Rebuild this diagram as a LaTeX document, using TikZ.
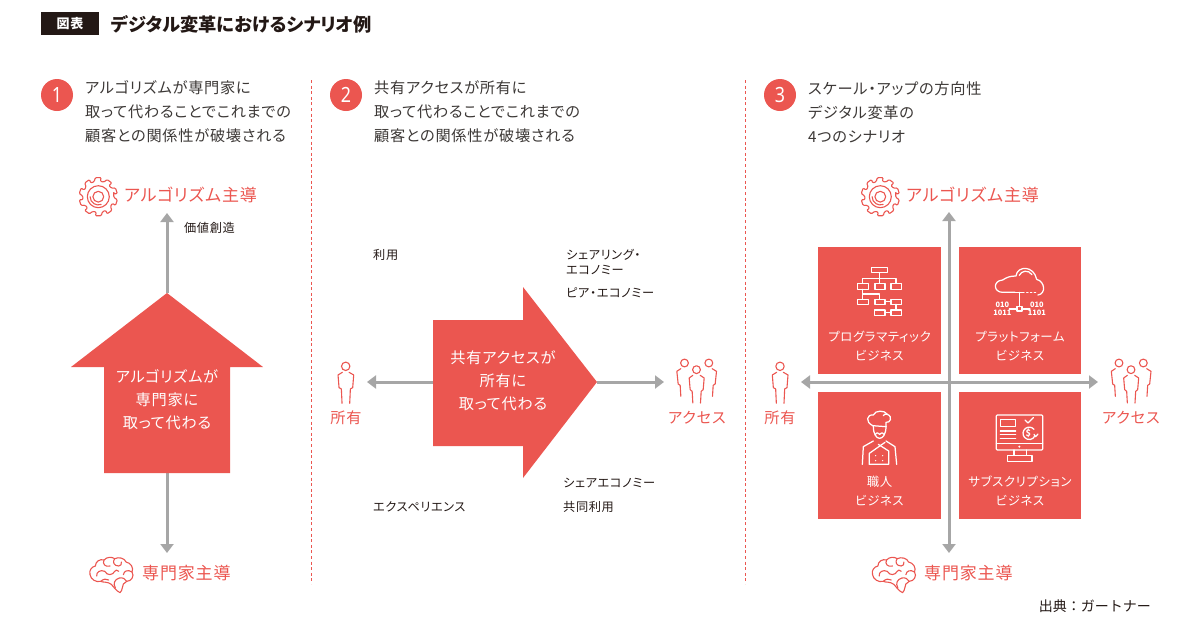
\documentclass[tikz,border=0pt]{standalone}
\usepackage{fontspec}
\usetikzlibrary{arrows.meta}
\setmainfont[RawFeature={+palt},LetterSpace=5]{Noto Sans CJK JP}
\newfontfamily\titlefont[RawFeature={+palt}]{Noto Sans CJK JP}
\newfontfamily\plainfont{Noto Sans CJK JP}
\newfontfamily\digitfont[FakeStretch=.85]{Noto Sans}
\definecolor{accent}{HTML}{EB5650}
\definecolor{axisgrey}{HTML}{A6A6A6}
\definecolor{ink}{HTML}{231815}
\definecolor{bodyink}{HTML}{3C3836}
\newcommand{\fs}[2]{\fontsize{#1}{#2}\selectfont}
\tikzset{
  px/.style={x=1pt,y=-1pt},
  zoomunits/.style={x=.3333pt,y=-.3333pt},
  axis/.style={draw=axisgrey,line width=3pt,-{Triangle[width=13pt,length=9pt]}},
  redshape/.style={fill=accent,draw=none},
  sep/.style={draw=accent,line width=.7pt,dash pattern=on 3pt off 2.6pt},
  lead/.style={anchor=west,inner sep=0pt,align=left,text=bodyink,font=\fs{15.2}{24}},
  poletext/.style={anchor=west,inner sep=0pt,text=accent,font=\fs{17}{20}},
  smalltext/.style={anchor=west,inner sep=0pt,align=left,text=ink,font=\fs{12.2}{15.5}},
  boxtext/.style={anchor=center,inner sep=0pt,align=center,text=white,font=\fs{12.4}{18.5}},
  bigtext/.style={anchor=center,inner sep=0pt,align=center,text=white,font=\fs{15.2}{23}},
  numdot/.style={circle,fill=accent,minimum size=32pt,inner sep=0pt,text=white,font=\digitfont\fs{21}{21}},
  ri/.style={draw=accent,line width=1.1pt,line cap=round,line join=round},
  wi/.style={draw=white,line width=1.25pt,line cap=round,line join=round},
  bit/.style={inner sep=0pt,text=white,font=\titlefont\bfseries\fs{7.4}{8},align=center},
  pics/gear/.style={code={
    \draw[ri,rounded corners=1.1pt] (11:15.6pt)
      \foreach \a in {0,36,...,324} {
        -- ({\a+9}:19.3pt) -- ({\a+27}:19.3pt) -- ({\a+33}:15.6pt) -- ({\a+47}:15.6pt)
      } -- cycle;
    \draw[ri] (0,0) circle[radius=5.4pt];
    \draw[ri] (0,0) circle[radius=11pt];
    \draw[ri] (-8.2pt,0) arc[start angle=180,end angle=290,radius=8.2pt];
  }},
  pics/brain/.style={code={
    \begin{scope}[zoomunits,shift={(-125,-105)}]
      % bumpy outer contour
      \draw[ri] (150,158) .. controls (138,152) and (132,142) .. (124,133)
        .. controls (112,124) and (100,128) .. (92,124)
        .. controls (78,128) and (62,118) .. (60,104)
        .. controls (56,90) and (66,80) .. (76,78)
        .. controls (76,64) and (90,56) .. (102,60)
        .. controls (110,50) and (126,50) .. (134,56)
        .. controls (146,50) and (164,54) .. (168,66)
        .. controls (182,68) and (192,84) .. (186,96)
        .. controls (194,108) and (184,124) .. (170,124)
        .. controls (166,128) and (162,130) .. (160,132)
        .. controls (156,140) and (158,150) .. (150,158);
      % folds
      \draw[ri] (80,108) .. controls (78,96) and (92,88) .. (104,94);
      \draw[ri] (102,60) .. controls (96,72) and (106,82) .. (120,78);
      \draw[ri] (134,56) .. controls (126,66) and (132,78) .. (146,78) .. controls (152,78) and (156,72) .. (154,66);
      \draw[ri] (186,96) .. controls (174,88) and (162,92) .. (160,104);
      \draw[ri] (104,94) .. controls (112,108) and (128,106) .. (134,94) .. controls (136,88) and (142,90) .. (146,94);
      \draw[ri] (92,124) .. controls (100,116) and (110,116) .. (116,120);
      \draw[ri] (136,144) .. controls (128,130) and (134,118) .. (148,114) .. controls (158,112) and (166,116) .. (170,124);
    \end{scope}
  }},
  pics/person/.style={code={
    \begin{scope}[zoomunits,shift={(-373,-64)}]
      \draw[ri] (373,64) circle[radius=4.2pt];
      \draw[ri] (363,82) -- (350,90) -- (353,128) -- (360,132) -- (362,175);
      \draw[ri] (383,82) -- (397,90) -- (394,128) -- (387,132) -- (385,175);
    \end{scope}
  }},
  pics/crowd/.style={code={
    \begin{scope}[zoomunits,shift={(-125,-100)}]
      \draw[ri] (89,55) circle[radius=3.9pt];
      \draw[ri] (162,55) circle[radius=3.9pt];
      \draw[ri] (125,75) circle[radius=3.9pt];
      \draw[ri] (78,72) -- (66,80) -- (70,118) -- (76,122) -- (78,155);
      \draw[ri] (172,72) -- (185,80) -- (181,118) -- (175,122) -- (173,155);
      \draw[ri] (114,92) -- (103,100) -- (106,135) -- (112,140) -- (114,175);
      \draw[ri] (136,92) -- (148,100) -- (145,135) -- (139,140) -- (137,175);
    \end{scope}
  }},
}
\begin{document}
\begin{tikzpicture}[px]
\useasboundingbox (0,0) rectangle (1200,630);
% header
\fill[ink] (41,12) rectangle (99,35);
\node[inner sep=0pt,text=white,font=\bfseries\fs{13}{15}] (hdr) at (70,24) {図表};
\node[anchor=west,inner sep=0pt,text=ink,font=\titlefont\bfseries\fs{18.25}{22}] (title) at (111,24) {デジタル変革におけるシナリオ例};
% separators
\coordinate (s1a) at (311,80); \coordinate (s1b) at (311,584);
\coordinate (s2a) at (745,80); \coordinate (s2b) at (745,584);
\draw[sep] (s1a) -- (s1b);
\draw[sep] (s2a) -- (s2b);
% lead-ins
\node[numdot] (n1) at (57,95) {1};
\node[numdot] (n2) at (346,95) {2};
\node[numdot] (n3) at (780,95) {3};
\node[lead] (l1) at (85,112) {アルゴリズムが専門家に\\取って代わることでこれまでの\\顧客との関係性が破壊される};
\node[lead] (l2) at (374,112) {共有アクセスが所有に\\取って代わることでこれまでの\\顧客との関係性が破壊される};
\node[lead] (l3) at (808,112) {スケール・アップの方向性\\デジタル変革の\\4つのシナリオ};
% panel 1
\coordinate (a1top) at (167,293); \coordinate (a1end) at (167,213);
\coordinate (a1bot) at (167,472); \coordinate (a1low) at (167,553);
\draw[axis] (a1top) -- (a1end);
\draw[axis] (a1bot) -- (a1low);
\fill[redshape] (a1top) -- (263,367) -- (230,367) -- (230,473) -- (104,473) -- (104,367) -- (71,367) -- cycle;
\node[bigtext] (t1) at (167,400) {アルゴリズムが\\専門家に\\取って代わる};
\pic at (98.3,196.7) {gear};
\node[poletext] (p1a) at (124,195) {アルゴリズム主導};
\pic at (111.7,575) {brain};
\node[poletext] (p1b) at (142,573) {専門家主導};
\node[smalltext] (v1) at (184,228) {価値創造};
% panel 2
\coordinate (a2l) at (433,382); \coordinate (a2le) at (367,382);
\coordinate (a2r) at (597,382); \coordinate (a2re) at (664,382);
\draw[axis] (a2l) -- (a2le);
\draw[axis] (a2r) -- (a2re);
\fill[redshape] (a2r) -- (523,478) -- (523,446) -- (433,446) -- (433,320) -- (523,320) -- (523,287) -- cycle;
\node[bigtext] (t2) at (503,381) {共有アクセスが\\所有に\\取って代わる};
\pic at (345.7,366.3) {person};
\node[poletext,anchor=center,font=\fs{15.2}{18}] (p2a) at (346,418) {所有};
\pic at (696.5,378) {crowd};
\node[poletext,anchor=center,font=\fs{15.2}{18}] (p2b) at (697,418) {アクセス};
\node[smalltext] (u1) at (373,255) {利用};
\node[smalltext] (u2) at (566,262) {シェアリング・\\エコノミー};
\node[smalltext] (u3) at (566,293) {ピア・エコノミー};
\node[smalltext] (u4) at (563,483) {シェアエコノミー};
\node[smalltext] (u5) at (373,507) {エクスペリエンス};
\node[smalltext] (u6) at (563,507) {共同利用};
% panel 3
\fill[redshape] (818,247) rectangle (941,374);
\fill[redshape] (959,247) rectangle (1081,374);
\fill[redshape] (818,392) rectangle (941,519);
\fill[redshape] (959,392) rectangle (1081,519);
\coordinate (vs) at (949,382); \coordinate (vt) at (949,212); \coordinate (vb) at (949,553);
\coordinate (hs) at (949,382); \coordinate (hl) at (801,382); \coordinate (hr) at (1098,382);
\draw[axis] (vs) -- (vt);
\draw[axis] (vs) -- (vb);
\draw[axis] (hs) -- (hl);
\draw[axis] (hs) -- (hr);
\pic at (880.3,196.7) {gear};
\node[poletext] (p3a) at (906,195) {アルゴリズム主導};
\pic at (894.2,575) {brain};
\node[poletext] (p3b) at (924,573) {専門家主導};
\pic at (780,366.3) {person};
\node[poletext,anchor=center,font=\fs{15.2}{18}] (p3c) at (780,418) {所有};
\pic at (1131,378) {crowd};
\node[poletext,anchor=center,font=\fs{15.2}{18}] (p3d) at (1131,418) {アクセス};
\node[boxtext] (b1) at (879.5,346) {プログラマティック\\ビジネス};
\node[boxtext] (b2) at (1020,346) {プラットフォーム\\ビジネス};
\node[boxtext] (b3) at (879.5,491) {職人\\ビジネス};
\node[boxtext] (b4) at (1020,491) {サブスクリプション\\ビジネス};
% org chart icon
\begin{scope}[shift={(810,240)},zoomunits]
  \foreach \xa/\ya/\xb/\yb in {185/83/233/98, 142/130/175/148, 195/130/225/148, 243/130/275/148, 142/178/175/193, 195/178/225/193, 243/178/275/193, 193/210/225/227, 243/210/275/227}
    \draw[wi] (\xa,\ya) rectangle (\xb,\yb);
  \draw[wi] (208,98) -- (208,130);
  \draw[wi] (158,130) -- (158,115) -- (258,115) -- (258,130);
  \draw[wi] (158,148) -- (158,178);
  \draw[wi] (158,162) -- (208,162) -- (208,178);
  \draw[wi] (225,185) -- (243,185);
  \draw[wi] (225,218) -- (243,218);
  \draw[wi] (258,193) -- (258,210);
\end{scope}
% cloud icon
\begin{scope}[shift={(810,240)},zoomunits]
  \draw[wi] (615,157) -- (578,157) .. controls (550,157) and (548,122) .. (578,120)
     .. controls (590,112) and (600,108) .. (618,108)
     .. controls (622,76) and (672,76) .. (680,118)
     .. controls (706,125) and (708,162) .. (684,165);
  \draw[wi] (628,106) .. controls (634,92) and (655,88) .. (666,104);
  \draw[wi,dash pattern=on 1.4pt off 2.4pt] (585,157) -- (612,157);
  \draw[wi,dash pattern=on 1.4pt off 2.4pt] (650,157) -- (678,157);
  \draw[wi] (615,157) -- (642,157);
  \draw[wi] (628,157) -- (628,200);
  \draw[wi] (621,200) rectangle (636,213);
  \draw[wi] (621,207) -- (598,207);
  \draw[wi] (636,207) -- (660,207);
  \node[bit] (bin1) at (577,207) {010\\1011};
  \node[bit] (bin2) at (681,207) {010\\1101};
\end{scope}
% chef icon
\begin{scope}[shift={(810,385)},zoomunits]
  \draw[wi] (188,122) .. controls (165,110) and (170,88) .. (190,90)
     .. controls (195,75) and (225,75) .. (232,88)
     .. controls (250,95) and (240,115) .. (228,112)
     -- (228,125);
  \draw[wi] (188,122) -- (228,125);
  \draw[wi] (232,88) .. controls (226,85) and (222,88) .. (220,92);
  \draw[wi] (190,124) .. controls (190,172) and (228,172) .. (228,124);
  \draw[wi] (196,148) .. controls (202,140) and (206,146) .. (209,148) .. controls (212,146) and (216,140) .. (222,148);
  \draw[wi] (190,168) -- (160,185) -- (157,238);
  \draw[wi] (228,168) -- (255,185) -- (260,238);
  \draw[wi] (178,238) -- (178,205) -- (225,172);
  \draw[wi] (178,238) -- (236,238) -- (236,198) -- (205,178);
  \fill[white] (197,212) circle[radius=.7pt] (218,212) circle[radius=.7pt] (197,227) circle[radius=.7pt] (218,227) circle[radius=.7pt];
\end{scope}
% monitor icon
\begin{scope}[shift={(810,385)},zoomunits]
  \draw[wi,rounded corners=1pt] (559,90) rectangle (698,195);
  \draw[wi] (559,176) -- (698,176);
  \fill[white] (628,185) circle[radius=1.1pt];
  \draw[wi] (612,195) -- (612,211);
  \draw[wi] (650,195) -- (650,211);
  \draw[wi] (593,211) rectangle (666,229);
  \draw[wi] (571,103) rectangle (617,124);
  \draw[wi] (571,138) -- (617,138);
  \draw[wi] (571,149) -- (617,149);
  \draw[wi] (571,160) -- (617,160);
  \draw[wi] (645,105) -- (654,114) -- (670,98);
  \draw[wi] (672,133) arc[start angle=40,end angle=330,radius=6.2pt];
  \draw[wi] (672,148) -- (677,155) -- (684,147);
  \node[bit,font=\titlefont\bfseries\fs{9}{9}] (dollar) at (655,145) {\$};
\end{scope}
\node[anchor=east,inner sep=0pt,text=ink,font=\plainfont\fs{14}{16}] (src) at (1151,606) {出典：ガートナー};
\end{tikzpicture}
\end{document}
